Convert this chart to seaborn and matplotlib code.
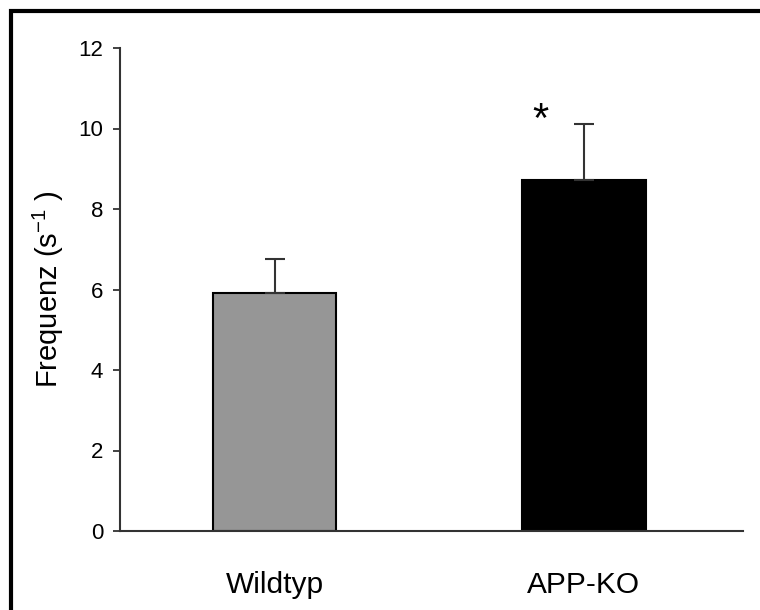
import matplotlib
matplotlib.use('Agg')
import matplotlib.pyplot as plt
import matplotlib.patches as mpatches
import seaborn as sns
import pandas as pd

# values
groups = ['Wildtyp', 'APP-KO']
means = [5.91, 8.72]
errors = [0.85, 1.38]
bar_colors = ['#969696', '#000000']

sns.set_style('white', {'text.color': 'black', 'axes.labelcolor': 'black',
                        'xtick.color': 'black', 'ytick.color': '#333333'})
plt.rcParams['font.family'] = ['Liberation Sans', 'DejaVu Sans']
plt.rcParams['mathtext.fontset'] = 'custom'
plt.rcParams['mathtext.rm'] = 'Liberation Sans'

df = pd.DataFrame({'Gruppe': groups, 'Frequenz': means})

fig = plt.figure(figsize=(7.6, 6.1), dpi=100)
ax = fig.add_axes([120 / 760, 79 / 610, 623 / 760, 483 / 610])

sns.barplot(data=df, x='Gruppe', y='Frequenz', hue='Gruppe', palette=bar_colors,
            width=0.4, edgecolor='black', linewidth=1.5, legend=False, ax=ax)

# upward error bars only
ax.errorbar(range(len(groups)), means, yerr=[[0] * len(errors), errors],
            fmt='none', ecolor='#333333', elinewidth=1.5, capsize=7, capthick=1.5)

ax.text(0.86, 10.18, '*', ha='center', va='center', fontsize=30)

ax.set_ylim(0, 12)
ax.set_xlim(-0.5, 1.515)
ax.set_yticks(range(0, 13, 2))
ax.set_xlabel('')
ax.set_ylabel('Frequenz (s$^{\\mathregular{-1}}$ )', fontsize=21, labelpad=9)
ax.tick_params(axis='y', labelsize=16, length=5, width=1.3, direction='out',
               left=True, colors='#333333', labelcolor='black', pad=7)
ax.tick_params(axis='x', labelsize=21.5, length=0, pad=29)

sns.despine(ax=ax)
for side in ['left', 'bottom']:
    ax.spines[side].set_linewidth(1.5)
    ax.spines[side].set_color('#333333')

# outer frame around the figure
frame = mpatches.Rectangle((11 / 760, -0.1), 1.2, (610 - 11) / 610 + 0.1,
                           transform=fig.transFigure, fill=False,
                           edgecolor='black', linewidth=3)
fig.patches.append(frame)

fig.savefig('out.png', dpi=100)
